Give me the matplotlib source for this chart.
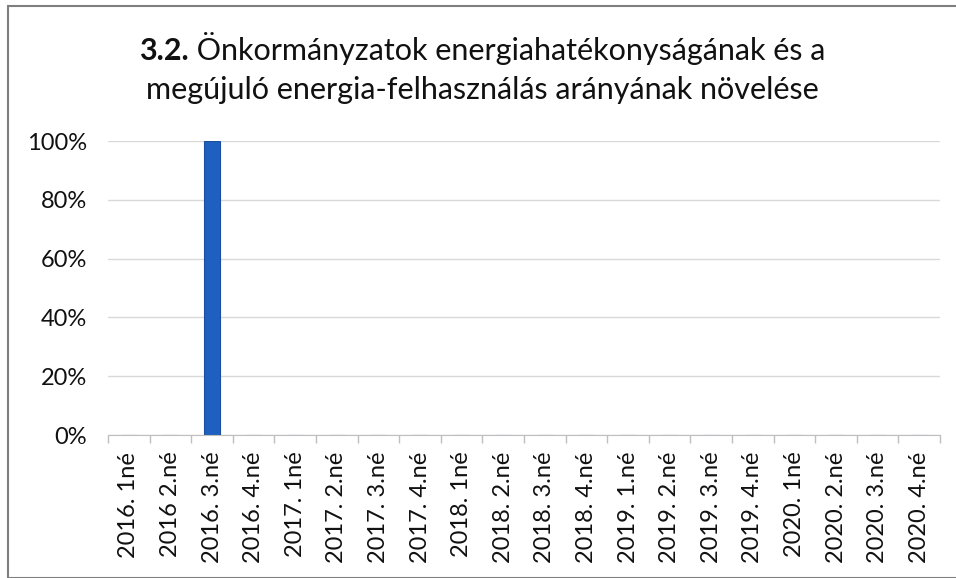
import matplotlib
matplotlib.use("Agg")
import matplotlib.pyplot as plt
from matplotlib.patches import Rectangle
from matplotlib.ticker import FuncFormatter, FixedLocator

categories = ["2016. 1né", "2016 2.né", "2016. 3.né", "2016. 4.né",
              "2017. 1né", "2017. 2.né", "2017. 3.né", "2017. 4.né",
              "2018. 1né", "2018. 2.né", "2018. 3.né", "2018. 4.né",
              "2019. 1.né", "2019. 2.né", "2019. 3.né", "2019. 4.né",
              "2020. 1né", "2020. 2.né", "2020. 3.né", "2020. 4.né"]
values = [0, 0, 1.0, 0, 0, 0, 0, 0, 0, 0, 0, 0, 0, 0, 0, 0, 0, 0, 0, 0]
yticks = [0, 0.2, 0.4, 0.6, 0.8, 1.0]

plt.rcParams['font.family'] = ['Lato', 'DejaVu Sans']

fig = plt.figure(figsize=(9.56, 5.78), dpi=100)
fig.patch.set_facecolor('white')
ax = fig.add_axes([108/956, 1-435/578, 832/956, 294/578])

x = list(range(len(categories)))
ax.bar(x, values, width=0.38, color='#1f5fbf', edgecolor='#1a4f9f', linewidth=0.8, zorder=3)
ax.set_xlim(-0.5, len(categories)-0.5)
ax.set_ylim(0, 1.0)
ax.set_yticks(yticks)
ax.yaxis.set_major_formatter(FuncFormatter(lambda v, p: f"{v*100:.0f}%"))
ax.grid(axis='y', color='#d9d9d9', linewidth=1, zorder=0)
ax.set_xticks(x)
ax.set_xticklabels(categories, rotation=90, fontsize=17, color='#111111')
ax.tick_params(axis='x', length=0, pad=12)
ax.xaxis.set_minor_locator(FixedLocator([i-0.5 for i in range(len(categories)+1)]))
ax.tick_params(axis='x', which='minor', length=6, color='#bfbfbf', width=1)
ax.tick_params(axis='y', length=0, labelsize=17, pad=15, labelcolor='#111111')
for s in ['top', 'right', 'left']:
    ax.spines[s].set_visible(False)
ax.spines['bottom'].set_color('#bfbfbf')
ax.spines['bottom'].set_zorder(4)

# figure border
fig.patches.append(Rectangle((8/956, 0), 1.2, 1-6/578, transform=fig.transFigure,
                             fill=False, edgecolor='#7f7f7f', linewidth=1.5))

# title with bold prefix
fig.canvas.draw()
r = fig.canvas.get_renderer()
fs = 22
y1 = 1 - 60/578
y2 = 1 - 99/578
t_b = fig.text(0, y1, "3.2.", fontsize=fs, fontweight='bold', va='baseline', color='#111111')
t_n = fig.text(0, y1, " Önkormányzatok energiahatékonyságának és a", fontsize=fs, va='baseline', color='#111111')
wb = t_b.get_window_extent(r).width
wn = t_n.get_window_extent(r).width
start = 482 - (wb + wn) / 2
t_b.set_x(start/956)
t_n.set_x((start+wb)/956)
fig.text(482/956, y2, "megújuló energia-felhasználás arányának növelése", fontsize=fs,
         va='baseline', ha='center', color='#111111')

fig.savefig("out.png", dpi=100)
